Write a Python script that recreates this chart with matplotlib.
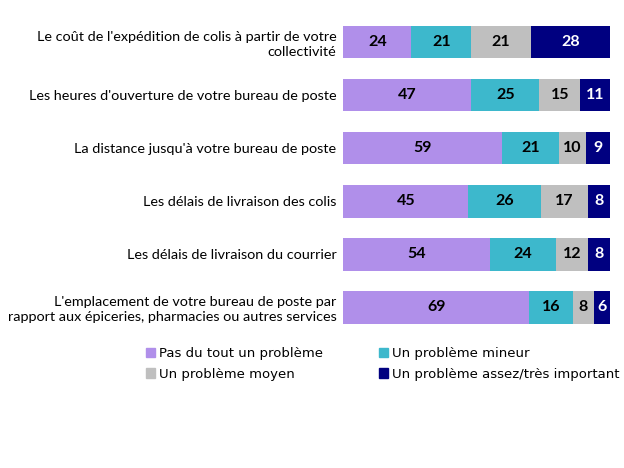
import numpy as np
import matplotlib.pyplot as plt
from matplotlib.patches import Patch

plt.rcParams['font.family'] = ['Lato', 'DejaVu Sans']

categories = [
    "Le coût de l'expédition de colis à partir de votre\ncollectivité",
    "Les heures d'ouverture de votre bureau de poste",
    "La distance jusqu'à votre bureau de poste",
    "Les délais de livraison des colis",
    "Les délais de livraison du courrier",
    "L'emplacement de votre bureau de poste par\nrapport aux épiceries, pharmacies ou autres services",
]
series_names = ["Pas du tout un problème", "Un problème mineur",
                "Un problème moyen", "Un problème assez/très important"]
pas_du_tout = [24, 47, 59, 45, 54, 69]
mineur = [21, 25, 21, 26, 24, 16]
moyen = [21, 15, 10, 17, 12, 8]
important = [28, 11, 9, 8, 8, 6]

colors = ['#B08FEA', '#3DB8CC', '#BFBFBF', '#000080']
text_colors = ['black', 'black', 'black', 'white']

data = np.array([pas_du_tout, mineur, moyen, important], dtype=float)
pct = data / data.sum(axis=0) * 100  # 100% stacked

fig = plt.figure(figsize=(6.24, 4.68), dpi=100)
ax = fig.add_axes([0.55, 0.287, 0.428, 0.68])

y = np.arange(len(categories))
left = np.zeros(len(categories))
for i in range(4):
    ax.barh(y, pct[i], left=left, height=0.62, color=colors[i])
    for j in range(len(categories)):
        ax.text(left[j] + pct[i][j] / 2, y[j], str(int(data[i][j])),
                ha='center', va='center', fontsize=11.5, fontweight='bold',
                color=text_colors[i])
    left += pct[i]

ax.set_xlim(0, 100)
ax.set_ylim(len(categories) - 0.5, -0.5)
ax.set_yticks(y)
ax.set_yticklabels(categories, fontsize=10.4, linespacing=1.3)
ax.tick_params(axis='y', length=0, pad=5)
ax.set_xticks([])
for s in ax.spines.values():
    s.set_visible(False)

handles = [Patch(color=colors[k]) for k in (0, 2, 1, 3)]
labels = [series_names[k] for k in (0, 2, 1, 3)]
fig.legend(handles, labels, ncol=2, loc='upper left',
           bbox_to_anchor=(0.215, 0.283), frameon=False,
           prop={'family': 'DejaVu Sans', 'size': 9.5},
           handlelength=0.7, handleheight=0.7, handletextpad=0.3,
           columnspacing=4.2, labelspacing=0.55)

fig.savefig('out.png')
